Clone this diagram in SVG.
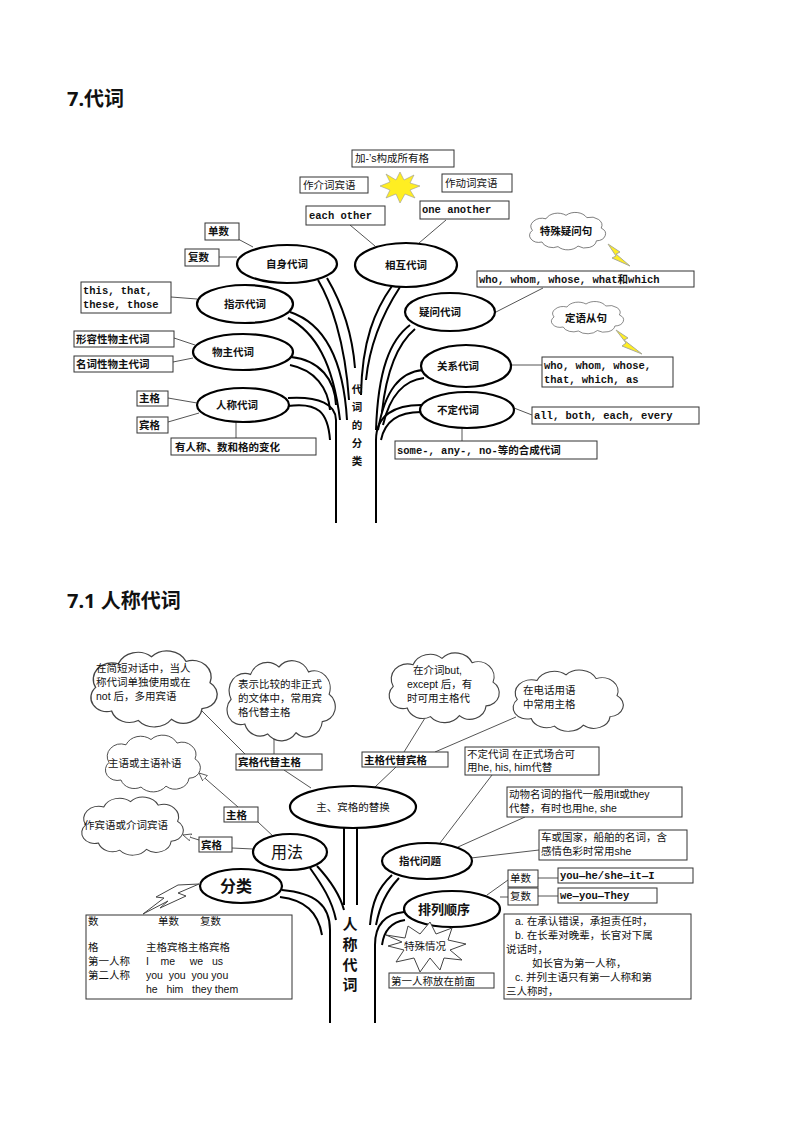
<svg xmlns="http://www.w3.org/2000/svg" width="800" height="1132" viewBox="0 0 800 1132">
<style>
text{font-family:"Liberation Sans","Noto Sans CJK SC",sans-serif;font-size:10.5px;fill:#111}
.b{font-weight:bold}
.m{font-family:"Liberation Mono","Noto Sans CJK SC",monospace;font-weight:bold;font-size:10.5px}
.h{font-family:"Noto Sans","Noto Sans CJK SC",sans-serif;font-size:20px;font-weight:bold}
.box{fill:#fff;stroke:#333;stroke-width:1}
.el{fill:#fff;stroke:#000;stroke-width:2.2}
.ln{fill:none;stroke:#555;stroke-width:1}
.br{fill:none;stroke:#000;stroke-width:2}
.cl{fill:#fff;stroke:#444;stroke-width:1}
</style>
<defs>
<path id="cloud" d="M20,50 A12,12 0 0 1 8,30 A14,14 0 0 1 25,10 A16,16 0 0 1 50,4 A16,16 0 0 1 76,8 A14,14 0 0 1 94,26 A12,12 0 0 1 88,48 A14,14 0 0 1 65,57 A16,16 0 0 1 40,58 A14,14 0 0 1 20,50 Z"/>
<marker id="oa" viewBox="0 0 10 10" refX="9" refY="5" markerWidth="9" markerHeight="9" orient="auto"><path d="M0,1 L9,5 L0,9 Z" fill="#fff" stroke="#555"/></marker>
</defs>
<rect width="800" height="1132" fill="#fff"/>
<text x="67" y="106" class="h">7.代词</text>
<text x="67" y="608" class="h">7.1 人称代词</text>

<!-- ===== top diagram ===== -->
<g id="connectors-top">
<path class="br" d="M336,523 L336,420 C336,405 320,396 288,398"/>
<path class="br" d="M330,440 C328,412 318,402 288,406"/>
<path class="br" d="M291,357 C320,360 335,380 336,405"/>
<path class="br" d="M290,365 C315,370 328,388 330,410"/>
<path class="br" d="M290,312 C320,322 343,352 347,420"/>
<path class="br" d="M288,318 C315,332 333,362 340,420"/>
<path class="br" d="M318,280 C330,300 345,340 349,400"/>
<path class="br" d="M327,278 C340,300 352,330 355,368"/>
<path class="br" d="M392,286 C375,310 362,340 361,395"/>
<path class="br" d="M400,287 C385,310 370,340 366,380"/>
<path class="br" d="M410,325 C390,340 378,370 376,430"/>
<path class="br" d="M415,329 C396,345 386,375 382,412"/>
<path class="br" d="M423,370 C400,372 385,390 378,430"/>
<path class="br" d="M424,378 C405,380 390,395 383,425"/>
<path class="br" d="M376,523 L376,440 C376,415 395,405 421,405"/>
<path class="br" d="M381,440 C385,420 400,412 421,412"/>
<path class="ln" d="M350,225 L375,246 M446,220 L419,243 M238,239 L253,247 M219,257 L237,257 M171,297 L197,299 M174,338 L195,345 M173,362 L193,358 M168,398 L197,403 M168,422 L199,413 M236,422 L236,438 M543,288 L496,312 M510,365 L542,365 M514,408 L532,415 M462,427 L462,441"/>
</g>
<g id="top-nodes">
<g id="n-zishen"><ellipse class="el" cx="287" cy="264" rx="50" ry="19"/><text x="287" y="268" text-anchor="middle" class="b">自身代词</text></g>
<g id="n-xianghu"><ellipse class="el" cx="406" cy="265" rx="51" ry="22"/><text x="406" y="269" text-anchor="middle" class="b">相互代词</text></g>
<g id="n-zhishi"><ellipse class="el" cx="245" cy="304" rx="48" ry="19"/><text x="245" y="308" text-anchor="middle" class="b">指示代词</text></g>
<g id="n-yiwen"><ellipse class="el" cx="450" cy="312" rx="45" ry="19"/><text x="440" y="316" text-anchor="middle" class="b">疑问代词</text></g>
<g id="n-wuzhu"><ellipse class="el" cx="243" cy="352" rx="50" ry="18"/><text x="233" y="356" text-anchor="middle" class="b">物主代词</text></g>
<g id="n-guanxi"><ellipse class="el" cx="466" cy="366" rx="45" ry="21"/><text x="458" y="370" text-anchor="middle" class="b">关系代词</text></g>
<g id="n-rencheng"><ellipse class="el" cx="243" cy="405" rx="46" ry="17"/><text x="237" y="409" text-anchor="middle" class="b">人称代词</text></g>
<g id="n-buding"><ellipse class="el" cx="467" cy="410" rx="47" ry="18"/><text x="458" y="414" text-anchor="middle" class="b">不定代词</text></g>
<g id="n-trunk1" class="b"><text x="357" y="393" text-anchor="middle">代</text><text x="357" y="411" text-anchor="middle">词</text><text x="357" y="429" text-anchor="middle">的</text><text x="357" y="447" text-anchor="middle">分</text><text x="357" y="465" text-anchor="middle">类</text></g>

<g id="b1"><rect class="box" x="352" y="150" width="102" height="17"/><text x="355" y="162">加-’s构成所有格</text></g>
<g id="b2"><rect class="box" x="300" y="177" width="68" height="16"/><text x="303" y="189">作介词宾语</text></g>
<g id="b3"><rect class="box" x="442" y="174" width="70" height="18"/><text x="445" y="187">作动词宾语</text></g>
<g id="star1"><polygon points="400,172 404,180 414,175 410,183 420,186 410,190 415,198 405,194 400,203 396,194 386,198 390,190 380,186 390,182 386,174 396,180" fill="#ffee22" stroke="#999" stroke-width="0.6"/></g>
<g id="b4"><rect class="box" x="306" y="206" width="79" height="19"/><text x="309" y="219" class="m">each other</text></g>
<g id="b5"><rect class="box" x="420" y="201" width="89" height="18"/><text x="422" y="213" class="m">one another</text></g>
<g id="b6"><rect class="box" x="205" y="223" width="34" height="17"/><text x="208" y="235" class="b">单数</text></g>
<g id="b7"><rect class="box" x="185" y="249" width="34" height="17"/><text x="188" y="261" class="b">复数</text></g>
<g id="b8"><rect class="box" x="81" y="282" width="90" height="31"/><text x="83" y="294" class="m">this, that,</text><text x="83" y="308" class="m">these, those</text></g>
<g id="b9"><rect class="box" x="74" y="331" width="100" height="16"/><text x="76" y="343" class="b">形容性物主代词</text></g>
<g id="b10"><rect class="box" x="74" y="356" width="99" height="16"/><text x="76" y="368" class="b">名词性物主代词</text></g>
<g id="b11"><rect class="box" x="137" y="391" width="31" height="15"/><text x="139" y="402" class="b">主格</text></g>
<g id="b12"><rect class="box" x="137" y="417" width="31" height="16"/><text x="139" y="429" class="b">宾格</text></g>
<g id="b13"><rect class="box" x="171" y="438" width="145" height="17"/><text x="175" y="451" class="b">有人称、数和格的变化</text></g>
<g id="c1"><use href="#cloud" class="cl" transform="translate(526,213) scale(0.8,0.58)"/><text x="566" y="235" text-anchor="middle" class="b">特殊疑问句</text><polygon points="608,244 620,252 616,254 630,266 612,258 616,256" fill="#ffee22" stroke="#aa9"/></g>
<g id="b14"><rect class="box" x="477" y="271" width="217" height="16"/><text x="479" y="283" class="m">who, whom, whose, what和which</text></g>
<g id="c2"><use href="#cloud" class="cl" transform="translate(548,302) scale(0.76,0.5)"/><text x="586" y="322" text-anchor="middle" class="b">定语从句</text><polygon points="616,330 628,338 624,340 642,354 622,346 626,343" fill="#ffee22" stroke="#aa9"/></g>
<g id="b15"><rect class="box" x="542" y="357" width="131" height="30"/><text x="544" y="369" class="m">who, whom, whose,</text><text x="544" y="383" class="m">that, which, as</text></g>
<g id="b16"><rect class="box" x="532" y="407" width="167" height="17"/><text x="534" y="419" class="m">all, both, each, every</text></g>
<g id="b17"><rect class="box" x="395" y="441" width="202" height="18"/><text x="397" y="454" class="m">some-, any-, no-等的合成代词</text></g>
</g>

<!-- ===== bottom diagram ===== -->
<g id="connectors-bottom">
<path class="br" d="M344,828 L344,905 M357,828 L357,905"/>
<path class="br" d="M317,866 C330,880 340,895 344,910"/>
<path class="br" d="M310,868 C322,885 332,900 336,920"/>
<path class="br" d="M330,1023 L330,930 C330,905 315,893 282,890"/>
<path class="br" d="M280,897 C305,900 318,912 322,935"/>
<path class="br" d="M392,875 C378,888 372,902 370,925"/>
<path class="br" d="M399,878 C386,892 380,905 376,925"/>
<path class="br" d="M375,1023 L375,945 C375,925 385,914 404,912"/>
<path class="br" d="M405,920 C392,922 384,930 382,945"/>
<path class="ln" d="M199,708 L245,754 M274,730 L274,754 M284,770 L311,788 M425,718 L404,752 M516,717 L435,752 M396,767 L375,787 M258,822 L274,837 M232,848 L253,849 M440,843 L492,775 M458,847 L525,817 M471,858 L539,850 M487,895 L508,880 M500,897 L508,897 M538,878 L558,878 M538,896 L558,896"/>
<path class="ln" d="M238,807 L199,773" marker-end="url(#oa)"/>
<path class="ln" d="M199,840 L183,835" marker-end="url(#oa)"/>
</g>
<g id="bottom-nodes">
<g id="m-tihuan"><ellipse class="el" cx="353" cy="807" rx="63" ry="21"/><text x="353" y="811" text-anchor="middle">主、宾格的替换</text></g>
<g id="m-yongfa"><ellipse class="el" cx="290" cy="852" rx="37" ry="18"/><text x="287" y="858" text-anchor="middle" style="font-size:16px">用法</text></g>
<g id="m-fenlei"><ellipse class="el" cx="241" cy="886" rx="41" ry="17"/><text x="236" y="892" text-anchor="middle" style="font-size:16px" class="b">分类</text></g>
<g id="m-zhidai"><ellipse class="el" cx="427" cy="861" rx="45" ry="18"/><text x="420" y="865" text-anchor="middle" class="b">指代问题</text></g>
<g id="m-pailie"><ellipse class="el" cx="452" cy="909" rx="48" ry="18"/><text x="444" y="914" text-anchor="middle" class="b" style="font-size:13px">排列顺序</text></g>
<g id="m-trunk" class="b"><text x="350" y="930" text-anchor="middle" style="font-size:15px">人</text><text x="350" y="950" text-anchor="middle" style="font-size:15px">称</text><text x="350" y="970" text-anchor="middle" style="font-size:15px">代</text><text x="350" y="990" text-anchor="middle" style="font-size:15px">词</text></g>

<g id="cl1"><use href="#cloud" class="cl" transform="translate(85,652) scale(1.33,1.18)"/><text x="96" y="672">在简短对话中，当人</text><text x="96" y="686">称代词单独使用或在</text><text x="96" y="700">not 后，多用宾语</text></g>
<g id="cl2"><use href="#cloud" class="cl" transform="translate(222,662) scale(1.14,1.24)"/><text x="238" y="688">表示比较的非正式</text><text x="238" y="702">的文体中，常用宾</text><text x="238" y="716">格代替主格</text></g>
<g id="cl3"><use href="#cloud" class="cl" transform="translate(384,654) scale(1.16,1.08)"/><text x="413" y="674">在介词but,</text><text x="407" y="688">except 后，有</text><text x="407" y="702">时可用主格代</text></g>
<g id="cl4"><use href="#cloud" class="cl" transform="translate(508,671) scale(1.16,0.95)"/><text x="523" y="694">在电话用语</text><text x="523" y="708">中常用主格</text></g>
<g id="cl5"><use href="#cloud" class="cl" transform="translate(101,736) scale(1.0,0.88)"/><text x="108" y="767">主语或主语补语</text></g>
<g id="cl6"><use href="#cloud" class="cl" transform="translate(77,798) scale(1.07,0.9)"/><text x="84" y="829">作宾语或介词宾语</text></g>

<g id="d1"><rect class="box" x="236" y="754" width="86" height="16"/><text x="238" y="766" class="b">宾格代替主格</text></g>
<g id="d2"><rect class="box" x="362" y="752" width="86" height="15"/><text x="364" y="764" class="b">主格代替宾格</text></g>
<g id="d3"><rect class="box" x="224" y="807" width="34" height="15"/><text x="226" y="819" class="b">主格</text></g>
<g id="d4"><rect class="box" x="199" y="837" width="33" height="15"/><text x="201" y="849" class="b">宾格</text></g>
<g id="d5"><rect class="box" x="465" y="747" width="134" height="28"/><text x="467" y="758">不定代词 在正式场合可</text><text x="467" y="771">用he, his, him代替</text></g>
<g id="d6"><rect class="box" x="507" y="787" width="175" height="30"/><text x="509" y="798">动物名词的指代一般用it或they</text><text x="509" y="812">代替，有时也用he, she</text></g>
<g id="d7"><rect class="box" x="539" y="830" width="148" height="30"/><text x="541" y="841">车或国家，船舶的名词，含</text><text x="541" y="855">感情色彩时常用she</text></g>
<g id="d8"><rect class="box" x="508" y="870" width="30" height="17"/><text x="510" y="882">单数</text></g>
<g id="d9"><rect class="box" x="508" y="888" width="30" height="17"/><text x="510" y="900">复数</text></g>
<g id="d10"><rect class="box" x="558" y="868" width="135" height="15"/><text x="560" y="879" class="m">you—he/she—it—I</text></g>
<g id="d11"><rect class="box" x="558" y="888" width="99" height="15"/><text x="560" y="899" class="m">we—you—They</text></g>
<g id="d12"><rect class="box" x="504" y="914" width="187" height="85"/>
<text x="515" y="925">a. 在承认错误，承担责任时，</text><text x="515" y="939">b. 在长辈对晚辈，长官对下属</text><text x="506" y="953">说话时，</text><text x="532" y="967">如长官为第一人称，</text><text x="515" y="981">c. 并列主语只有第一人称和第</text><text x="506" y="995">三人称时，</text></g>
<g id="d13"><polygon points="386,935 405,938 408,926 420,934 430,922 436,934 452,928 448,940 466,944 450,950 462,960 444,958 440,970 430,958 420,972 414,958 396,962 404,950 388,946 402,942" fill="#fff" stroke="#444"/><text x="425" y="950" text-anchor="middle">特殊情况</text></g>
<g id="d14"><rect class="box" x="389" y="973" width="105" height="15"/><text x="391" y="985">第一人称放在前面</text></g>
<g id="d15"><polygon points="199,884 178,893 186,896 160,908 168,901 143,914 164,898 156,897 178,885" fill="#fff" stroke="#444"/></g>
<g id="d16"><rect class="box" x="86" y="915" width="206" height="84"/>
<text x="88" y="925">数</text><text x="158" y="925">单数</text><text x="200" y="925">复数</text>
<text x="88" y="951">格</text><text x="146" y="951">主格宾格主格宾格</text>
<text x="88" y="965">第一人称</text><text x="146" y="965" xml:space="preserve">I    me     we   us</text>
<text x="88" y="979">第二人称</text><text x="146" y="979" xml:space="preserve">you  you  you you</text>
<text x="146" y="993" xml:space="preserve">he   him   they them</text></g>
</g>
</svg>
